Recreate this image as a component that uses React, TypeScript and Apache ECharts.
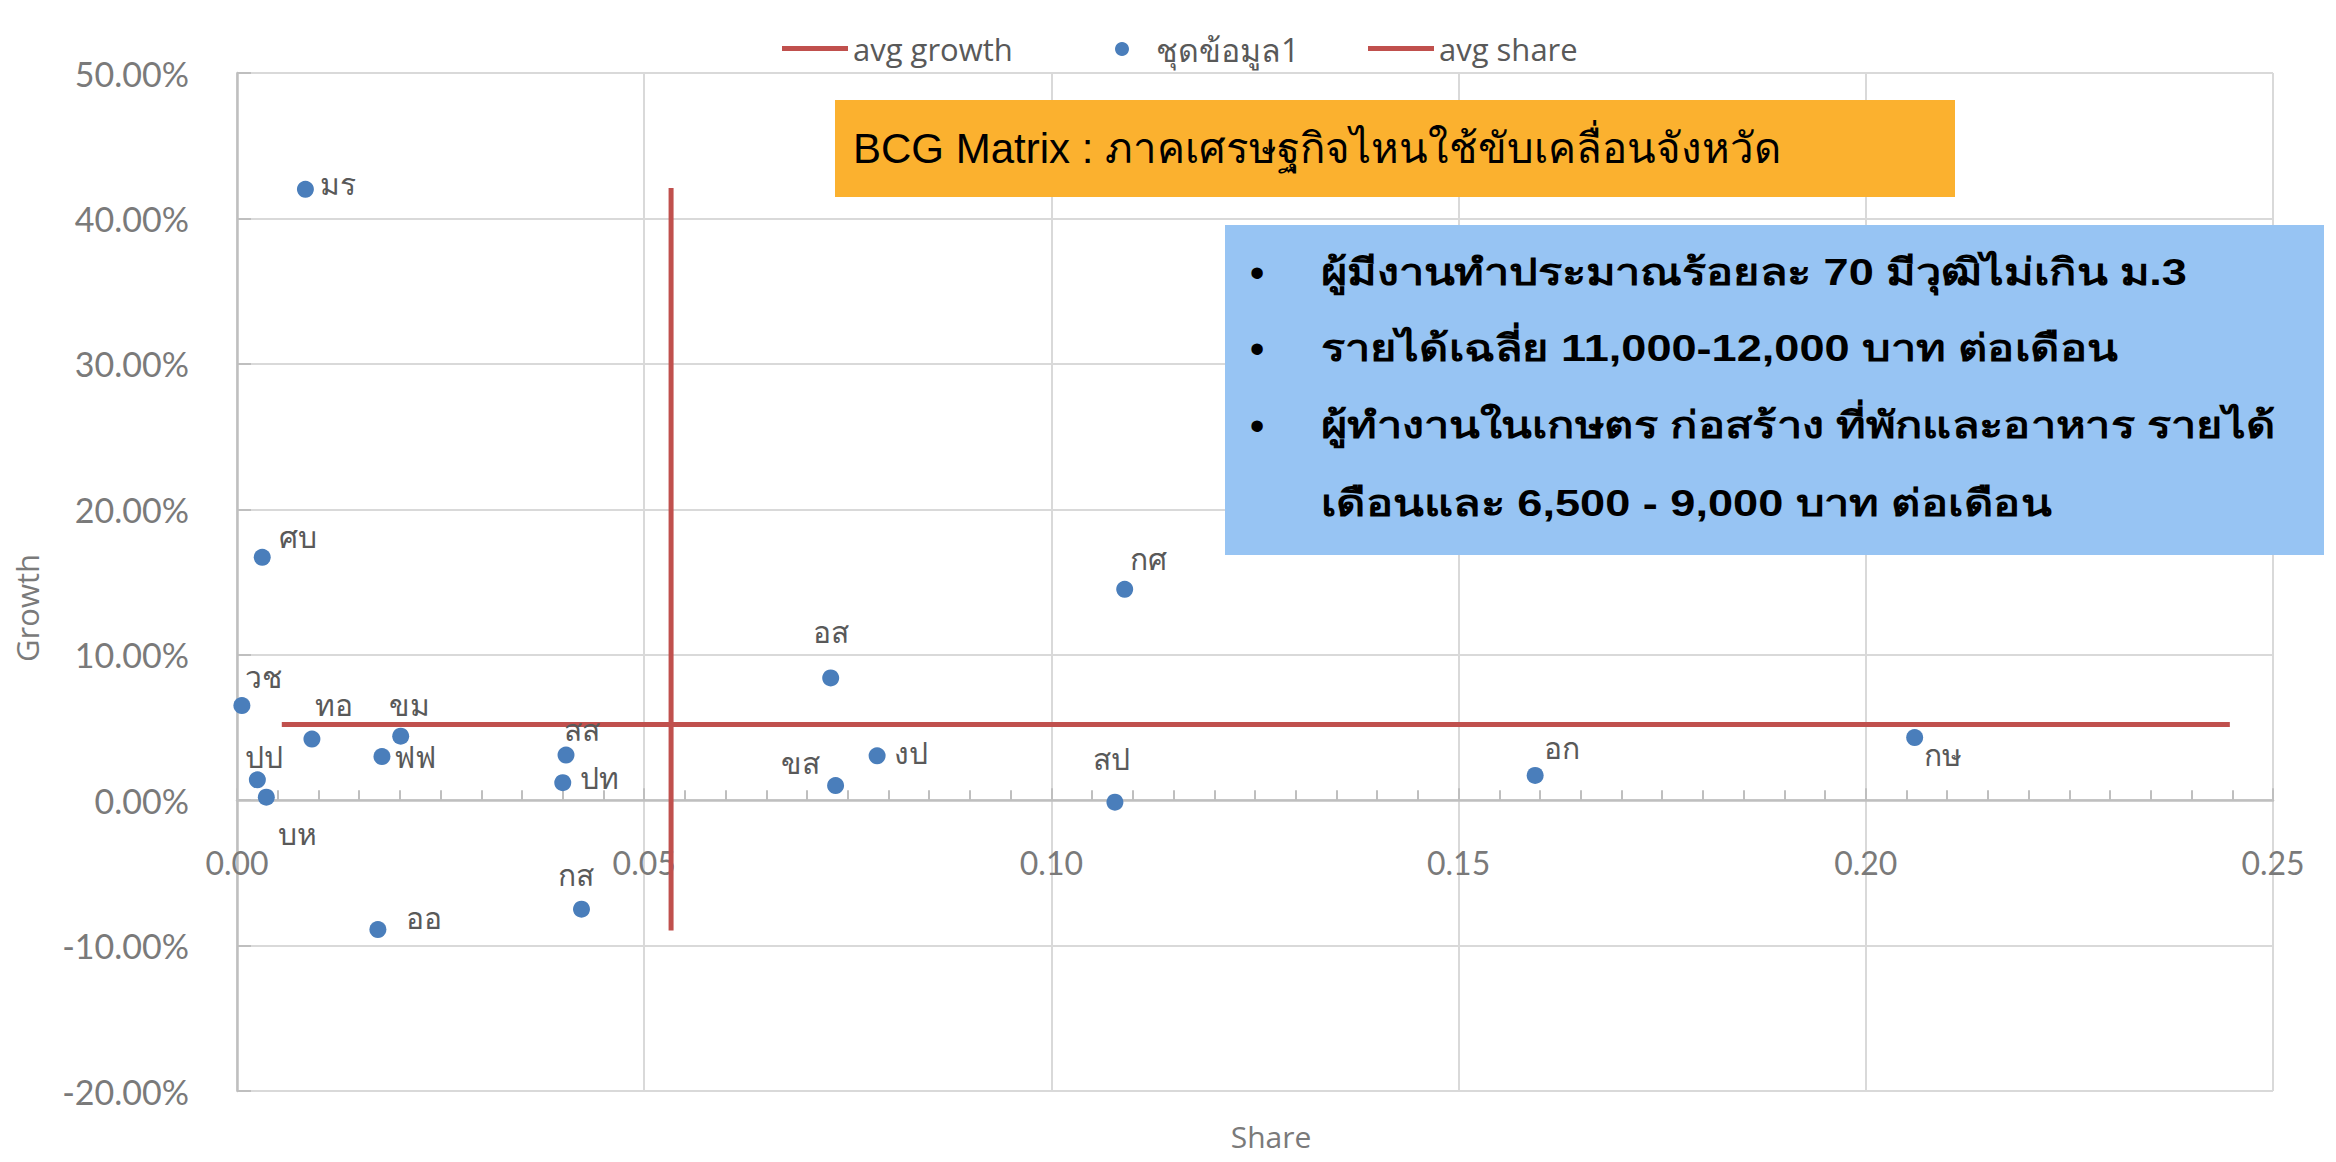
import React, { useEffect, useRef } from 'react';
import * as echarts from 'echarts';

const names = ['มร', 'ศบ', 'วช', 'ทอ', 'ขม', 'ฟฟ', 'ปป', 'บห', 'สส', 'ปท', 'กส', 'ออ', 'อส', 'ขส', 'งป', 'สป', 'กศ', 'อก', 'กษ'];
const share = [0.0084, 0.0031, 0.0006, 0.0092, 0.0201, 0.0178, 0.0025, 0.0036, 0.0404, 0.04, 0.0423, 0.0173, 0.0729, 0.0735, 0.0786, 0.1078, 0.109, 0.1594, 0.206];
const growth = [42.0, 16.7, 6.5, 4.2, 4.4, 3.0, 1.4, 0.2, 3.1, 1.2, -7.5, -8.9, 8.4, 1.0, 3.05, -0.14, 14.5, 1.7, 4.3];
const labelOffsets: [number, number][] = [
  [33, -5], [36, -20], [22, -28], [22, -34], [9, -31], [33, 1], [7, -22], [31, 37], [16, -25], [37, -4],
  [-5, -34], [46, -11], [0, -45], [-35, -22], [34, -2], [-3, -43], [24, -30], [27, -27], [28, 18],
];

const avgGrowthX = [0.0055, 0.2447];
const avgGrowthY = [5.2, 5.2];
const avgShareX = [0.0533, 0.0533];
const avgShareY = [-8.97, 42.1];

const xMin = 0, xMax = 0.25, xInterval = 0.05;
const yMin = -20, yMax = 50, yInterval = 10;

const seriesNames = ['avg growth', 'ชุดข้อมูล1', 'avg share'];
const xTitle = 'Share';
const yTitle = 'Growth';
const titleText = 'BCG Matrix : ภาคเศรษฐกิจไหนใช้ขับเคลื่อนจังหวัด';
const noteLines = [
  'ผู้มีงานทำประมาณร้อยละ 70 มีวุฒิไม่เกิน ม.3',
  'รายได้เฉลี่ย 11,000-12,000 บาท ต่อเดือน',
  'ผู้ทำงานในเกษตร ก่อสร้าง ที่พักและอาหาร รายได้',
  'เดือนและ 6,500 - 9,000 บาท ต่อเดือน',
];
const noteBullets = [true, true, true, false];

const RED = '#C0504D';
const BLUE = '#4A7EBB';
const AXIS_TEXT = '#7a7a7a';
const LABEL_TEXT = '#595959';

const W = 2336, H = 1162;
const GRID = { left: 237, right: 63, top: 73, bottom: 71 };

export default function App() {
  const ref = useRef<HTMLDivElement>(null);
  useEffect(() => {
    if (!ref.current) return;
    const chart = echarts.init(ref.current, undefined, { renderer: 'svg' });
    const gridH = H - GRID.top - GRID.bottom;
    const zeroOffset = -gridH * (0 - yMin) / (yMax - yMin);
    const lineY = [272, 348, 425, 503];
    const graphics: any[] = [
      { type: 'rect', z: 100, shape: { x: 835, y: 100, width: 1120, height: 97 }, style: { fill: '#FBB12F' } },
      { type: 'text', z: 101, x: 853, y: 148, style: { text: titleText, fontSize: 42, fontFamily: 'Liberation Sans, sans-serif', fill: '#000', align: 'left', verticalAlign: 'middle' } },
      { type: 'rect', z: 100, shape: { x: 1225, y: 225, width: 1099, height: 330 }, style: { fill: '#97C4F3' } },
      { type: 'text', z: 101, x: 27, y: 608, rotation: Math.PI / 2, style: { text: yTitle, fontSize: 31, fontFamily: 'Open Sans', fill: AXIS_TEXT, align: 'center', verticalAlign: 'middle' } },
      { type: 'text', z: 101, x: 1271, y: 1136, style: { text: xTitle, fontSize: 30, fontFamily: 'Open Sans', fill: AXIS_TEXT, align: 'center', verticalAlign: 'middle' } },
    ];
    noteLines.forEach((t, i) => {
      if (noteBullets[i]) {
        graphics.push({ type: 'text', z: 101, x: 1257, y: lineY[i], style: { text: '•', fontSize: 42, fontFamily: 'Liberation Sans', fill: '#000', align: 'center', verticalAlign: 'middle' } });
      }
      graphics.push({ type: 'text', z: 101, x: 1321, y: lineY[i], scaleX: 1.22, style: { text: t, fontSize: 37, fontWeight: 'bold', fontFamily: 'Liberation Sans, sans-serif', fill: '#000', align: 'left', verticalAlign: 'middle' } });
    });

    const lineIcon = 'path://M0,0H66V5H0Z';
    const legendBase = {
      top: 28,
      itemHeight: 14,
      symbolKeepAspect: true,
      textStyle: { fontFamily: 'Open Sans', fontSize: 31, color: LABEL_TEXT },
    };

    chart.setOption({
      animation: false,
      backgroundColor: '#fff',
      grid: { ...GRID, containLabel: false },
      legend: [
        { ...legendBase, left: 777, itemWidth: 66, data: [{ name: seriesNames[0], icon: lineIcon }] },
        {
          ...legendBase,
          left: 1110,
          itemWidth: 14,
          textStyle: { ...legendBase.textStyle, fontSize: 32, padding: [0, 0, 0, 22] },
          data: [{ name: seriesNames[1], icon: 'circle' }],
        },
        { ...legendBase, left: 1363, itemWidth: 66, data: [{ name: seriesNames[2], icon: lineIcon }] },
      ],
      xAxis: {
        type: 'value',
        min: xMin,
        max: xMax,
        interval: xInterval,
        offset: zeroOffset,
        axisLine: { onZero: false, lineStyle: { color: '#bfbfbf', width: 2.5 } },
        axisTick: { show: true, inside: true, length: 12, lineStyle: { color: '#bfbfbf', width: 2 } },
        minorTick: { show: true, splitNumber: 10, length: 10, lineStyle: { color: '#bfbfbf', width: 2 } },
        axisLabel: { margin: 46, fontSize: 32, fontFamily: 'Lato', color: AXIS_TEXT, formatter: (v: number) => v.toFixed(2) },
        splitLine: { show: true, lineStyle: { color: '#d9d9d9', width: 2 } },
      },
      yAxis: {
        type: 'value',
        min: yMin,
        max: yMax,
        interval: yInterval,
        axisLine: { show: true, onZero: false, lineStyle: { color: '#bfbfbf', width: 2.5 } },
        axisTick: { show: true, inside: true, length: 14, lineStyle: { color: '#bfbfbf', width: 2 } },
        axisLabel: { margin: 48, fontSize: 34, fontFamily: 'Lato', color: AXIS_TEXT, formatter: (v: number) => v.toFixed(2) + '%' },
        splitLine: { show: true, lineStyle: { color: '#d9d9d9', width: 2 } },
      },
      series: [
        {
          name: seriesNames[0],
          type: 'line',
          symbol: 'none',
          z: 3,
          lineStyle: { color: RED, width: 5 },
          itemStyle: { color: RED },
          data: avgGrowthX.map((x, i) => [x, avgGrowthY[i]]),
        },
        {
          name: seriesNames[1],
          type: 'scatter',
          symbolSize: 17,
          z: 4,
          itemStyle: { color: BLUE, opacity: 1 },
          label: {
            show: true,
            position: 'inside',
            formatter: (p: any) => p.name,
            fontSize: 30,
            color: LABEL_TEXT,
            textBorderWidth: 0,
          },
          data: names.map((n, i) => ({ name: n, value: [share[i], growth[i]], label: { offset: labelOffsets[i] } })),
        },
        {
          name: seriesNames[2],
          type: 'line',
          symbol: 'none',
          z: 3,
          lineStyle: { color: RED, width: 5 },
          itemStyle: { color: RED },
          data: avgShareX.map((x, i) => [x, avgShareY[i]]),
        },
      ],
      graphic: graphics,
    });
    return () => chart.dispose();
  }, []);
  return <div ref={ref} style={{ position: 'fixed', left: 0, top: 0, width: W, height: H }} />;
}
